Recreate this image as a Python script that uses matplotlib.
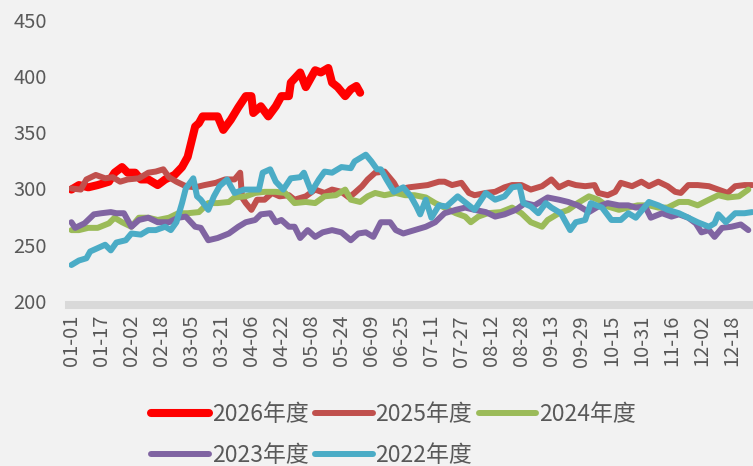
import matplotlib.pyplot as plt

# day index (0 = 01-01, leap-year calendar) and values
d2026 = [0, 4, 9, 14, 20, 23, 27, 30, 34, 37, 41, 46, 50, 55, 59, 62, 66, 68, 70, 75, 78, 81,
         85, 89, 93, 96, 97, 101, 105, 109, 112, 116, 117, 122, 125, 130, 133, 137, 139, 142,
         146, 149, 152, 154]
v2026 = [299, 303, 301, 303, 306, 314, 319, 314, 314, 308, 308, 303, 308, 312, 319, 328, 355,
         358, 364, 364, 364, 352, 361, 372, 382, 382, 367, 373, 364, 373, 382, 382, 394, 403,
         390, 405, 403, 407, 394, 390, 382, 388, 391, 385]

d2025 = [0, 5, 8, 13, 18, 22, 26, 30, 36, 41, 45, 49, 52, 56, 61, 66, 71, 77, 82, 87, 90, 91,
         93, 96, 99, 103, 107, 111, 116, 119, 125, 130, 135, 139, 144, 148, 151, 155, 158,
         162, 167, 172, 174, 180, 185, 190, 196, 199, 203, 208, 212, 215, 221, 226, 231, 235,
         240, 245, 251, 256, 260, 265, 269, 274, 279, 281, 286, 290, 293, 299, 304, 308, 313,
         318, 322, 325, 329, 334, 340, 345, 350, 354, 359, 363]
v2025 = [300, 299, 308, 312, 309, 310, 306, 308, 309, 314, 315, 317, 310, 306, 302, 301, 303,
         305, 308, 308, 314, 292, 287, 281, 290, 290, 296, 293, 294, 290, 293, 299, 296, 299,
         297, 292, 296, 302, 308, 314, 315, 305, 299, 301, 302, 303, 306, 306, 303, 305, 296,
         294, 296, 297, 301, 303, 303, 299, 302, 308, 301, 305, 303, 302, 303, 296, 294, 297,
         305, 302, 306, 302, 306, 302, 297, 296, 303, 303, 302, 299, 296, 302, 303, 303]

d2024 = [0, 4, 9, 14, 20, 23, 27, 32, 36, 41, 46, 52, 57, 62, 68, 73, 78, 84, 87, 93, 98, 103,
         109, 114, 119, 125, 130, 135, 141, 146, 149, 154, 158, 162, 167, 173, 178, 183, 189,
         194, 199, 205, 210, 213, 217, 222, 229, 235, 240, 245, 251, 254, 260, 265, 270, 276,
         281, 286, 292, 297, 302, 308, 313, 318, 324, 329, 334, 340, 345, 350, 356, 361]
v2024 = [263, 263, 265, 265, 269, 274, 270, 266, 274, 274, 272, 274, 278, 278, 279, 287, 287,
         288, 292, 293, 296, 297, 297, 296, 287, 288, 287, 293, 294, 299, 290, 288, 293, 296,
         294, 296, 294, 294, 292, 287, 283, 278, 275, 270, 275, 278, 279, 283, 278, 270, 266,
         272, 278, 281, 287, 293, 290, 284, 281, 283, 285, 285, 283, 283, 288, 288, 285, 290,
         294, 292, 293, 299]

d2023 = [0, 2, 7, 12, 16, 21, 24, 28, 32, 36, 41, 46, 52, 57, 61, 66, 69, 73, 78, 84, 89, 93,
         98, 101, 106, 109, 112, 116, 119, 122, 126, 130, 134, 139, 144, 149, 153, 157, 161,
         165, 170, 173, 177, 183, 189, 194, 199, 205, 210, 215, 221, 226, 231, 237, 242, 247,
         254, 260, 265, 270, 276, 281, 286, 292, 297, 301, 306, 309, 315, 320, 324, 329, 333,
         336, 340, 343, 347, 352, 357, 361]
v2023 = [270, 265, 269, 277, 278, 279, 278, 278, 266, 272, 274, 270, 270, 274, 275, 266, 265,
         254, 256, 260, 266, 270, 272, 277, 278, 270, 272, 266, 266, 256, 263, 257, 261, 263,
         261, 254, 260, 261, 257, 270, 270, 263, 260, 263, 266, 270, 278, 281, 283, 281, 279,
         275, 277, 281, 287, 285, 292, 290, 288, 285, 279, 284, 287, 285, 285, 283, 284, 274,
         278, 275, 277, 274, 269, 261, 263, 257, 265, 266, 268, 263]

d2022 = [0, 4, 8, 10, 14, 18, 21, 24, 29, 32, 37, 41, 45, 50, 53, 56, 59, 61, 65, 67, 69, 73,
         76, 79, 83, 87, 92, 96, 100, 102, 106, 109, 113, 117, 122, 124, 128, 132, 135, 139,
         144, 149, 151, 155, 157, 160, 163, 165, 168, 172, 177, 181, 184, 186, 189, 192, 196,
         200, 206, 212, 215, 221, 226, 231, 235, 239, 241, 245, 249, 253, 256, 261, 266, 269,
         274, 277, 283, 288, 293, 297, 301, 308, 313, 318, 324, 329, 334, 340, 343, 345, 349,
         354, 359, 363]
v2022 = [232, 236, 238, 244, 247, 250, 245, 252, 254, 260, 259, 263, 263, 266, 263, 270, 287,
         300, 309, 293, 290, 281, 293, 302, 308, 296, 299, 299, 299, 314, 317, 306, 299, 309,
         310, 314, 297, 308, 315, 314, 319, 318, 324, 328, 330, 324, 317, 317, 308, 297, 301,
         293, 284, 277, 290, 274, 285, 284, 293, 285, 281, 296, 290, 293, 301, 302, 287, 284,
         278, 287, 283, 278, 263, 270, 272, 287, 283, 272, 272, 278, 274, 288, 285, 281, 278,
         274, 270, 266, 269, 277, 270, 278, 278, 279]

tick_days = list(range(0, 353, 16))
tick_labels = ['01-01', '01-17', '02-02', '02-18', '03-05', '03-21', '04-06', '04-22',
               '05-08', '05-24', '06-09', '06-25', '07-11', '07-27', '08-12', '08-28',
               '09-13', '09-29', '10-15', '10-31', '11-16', '12-02', '12-18']

series = [
    (d2026, v2026, '2026年度', '#ff0000', 5.8),
    (d2025, v2025, '2025年度', '#c0504d', 4.3),
    (d2024, v2024, '2024年度', '#9bbb59', 4.3),
    (d2023, v2023, '2023年度', '#8064a2', 4.3),
    (d2022, v2022, '2022年度', '#4bacc6', 4.3),
]

plt.rcParams['font.family'] = ['Noto Sans CJK SC', 'DejaVu Sans']
bg = '#f2f2f2'
txt = '#595959'

fig = plt.figure(figsize=(7.53, 4.66), dpi=100, facecolor=bg)
ax = fig.add_axes([0.0916, 0.354, 0.9084, 0.604], facecolor=bg)

# spine position first: it resets the ticks
for s in ['top', 'right', 'left']:
    ax.spines[s].set_visible(False)
ax.spines['bottom'].set_position(('outward', 3))
ax.spines['bottom'].set_color('#d9d9d9')
ax.spines['bottom'].set_linewidth(5.8)

handles = {}
for i, (d, v, name, c, lw) in enumerate(series):
    ln, = ax.plot(d, v, color=c, lw=lw, solid_capstyle='round', solid_joinstyle='round',
                  label=name, zorder=2 + i)
    handles[name] = ln

ax.set_xlim(-1.3, 363.5)
ax.set_ylim(200, 450)
ax.set_yticks(range(200, 451, 50))
ax.set_xticks(tick_days)
ax.set_xticklabels(tick_labels)
ax.tick_params(length=0, colors=txt, labelsize=14.5)
ax.tick_params(axis='x', pad=7, labelrotation=90)
ax.tick_params(axis='y', pad=16)

order = ['2026年度', '2023年度', '2025年度', '2022年度', '2024年度']
leg = fig.legend([handles[k] for k in order], order, ncol=3, loc='center',
                 bbox_to_anchor=(0.523, 0.066), frameon=False, fontsize=16.5,
                 handlelength=2.5, handletextpad=0.13, columnspacing=0.3,
                 labelspacing=0.78, labelcolor=txt)

fig.savefig('out.png', dpi=100, facecolor=bg)
